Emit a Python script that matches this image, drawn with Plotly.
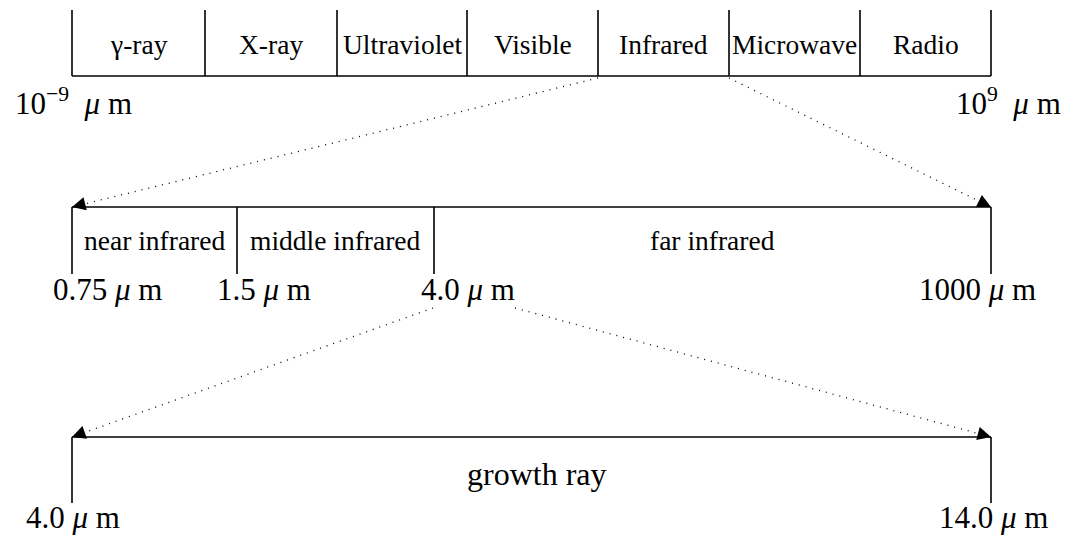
import math
import plotly.graph_objects as go

# ---------------- data (names and labels) ----------------
spectrum_bands = ["γ-ray", "X-ray", "Ultraviolet", "Visible", "Infrared", "Microwave", "Radio"]
spectrum_end_labels = ["10<sup>−9</sup>", "10<sup>9</sup>"]
ir_bands = ["near infrared", "middle infrared", "far infrared"]
ir_tick_labels = ["0.75", "1.5", "4.0", "1000"]
growth_bands = ["growth ray"]
growth_tick_labels = ["4.0", "14.0"]
unit_label = "<i>μ</i> m"

# ---------------- layout geometry (page-pixel canvas) ----------------
W, H = 1069, 539
OFF = 8  # default body margin of the html page
top_edges = [72, 205, 337, 467, 598, 729, 860, 991]
top_y0, top_y1 = 10, 76
mid_edges = [72, 237, 434, 991]
mid_y0, mid_y1 = 207, 274
bot_edges = [72, 991]
bot_y0, bot_y1 = 437, 503

top_end_pos = [(73, 101), (1008, 101)]
mid_tick_pos = [(107, 289), (264, 289), (468, 289), (977, 289)]
bot_tick_pos = [(73, 517), (993, 517)]

band_font = 27.5
value_font = 31
growth_font = 32
serif = "Liberation Serif, Times New Roman, serif"

shapes = []
annotations = []

def line(x0, y0, x1, y1, width=1.6, dash=None):
    ln = dict(color="black", width=width)
    if dash:
        ln["dash"] = dash
    shapes.append(dict(type="line", xref="x", yref="y", x0=x0, y0=y0, x1=x1, y1=y1, line=ln))

def text(x, y, s, size):
    annotations.append(dict(x=x, y=y, xref="x", yref="y", text=s, showarrow=False,
                            xanchor="center", yanchor="middle",
                            font=dict(family=serif, size=size, color="black")))

def dotted_arrow(sx, sy, tx, ty):
    line(sx, sy, tx, ty, width=1.3, dash="1px,6px")
    dx, dy = tx - sx, ty - sy
    d = math.hypot(dx, dy)
    ux, uy = dx / d, dy / d
    annotations.append(dict(x=tx, y=ty, xref="x", yref="y", axref="x", ayref="y",
                            ax=tx - ux * 8, ay=ty - uy * 8, text="", showarrow=True,
                            arrowhead=2, arrowsize=2.7, arrowwidth=1, arrowcolor="black",
                            standoff=0, startstandoff=0))

# top band
line(top_edges[0], top_y1, top_edges[-1], top_y1)
for x in top_edges:
    line(x, top_y0, x, top_y1)
for i, name in enumerate(spectrum_bands):
    text((top_edges[i] + top_edges[i + 1]) / 2, 44, name, band_font)
for (x, y), lab in zip(top_end_pos, spectrum_end_labels):
    text(x, y, lab + "\u00a0\u00a0" + unit_label, value_font)

# middle band
line(mid_edges[0], mid_y0, mid_edges[-1], mid_y0)
for x in mid_edges:
    line(x, mid_y0, x, mid_y1)
for i, name in enumerate(ir_bands):
    text((mid_edges[i] + mid_edges[i + 1]) / 2, 240, name, band_font)
for (x, y), lab in zip(mid_tick_pos, ir_tick_labels):
    text(x, y, lab + " " + unit_label, value_font)

# bottom band
line(bot_edges[0], bot_y0, bot_edges[-1], bot_y0)
for x in bot_edges:
    line(x, bot_y0, x, bot_y1)
text((bot_edges[0] + bot_edges[1]) / 2 + 5, 474, growth_bands[0], growth_font)
for (x, y), lab in zip(bot_tick_pos, growth_tick_labels):
    text(x, y, lab + " " + unit_label, value_font)

# zoom connectors
infra_i = spectrum_bands.index("Infrared")
dotted_arrow(top_edges[infra_i], top_y1 + 2, mid_edges[0], mid_y0)
dotted_arrow(top_edges[infra_i + 1], top_y1 + 2, mid_edges[-1], mid_y0)
dotted_arrow(433, 308, bot_edges[0], bot_y0)
dotted_arrow(515, 308, bot_edges[-1], bot_y0)

fig = go.Figure()
fig.update_layout(
    width=W - OFF, height=H - OFF,
    margin=dict(l=0, r=0, t=0, b=0, pad=0),
    paper_bgcolor="white", plot_bgcolor="white",
    xaxis=dict(range=[OFF, W], visible=False, fixedrange=True),
    yaxis=dict(range=[H, OFF], visible=False, fixedrange=True),
    shapes=shapes, annotations=annotations, showlegend=False,
)
fig.write_html("out.html")
